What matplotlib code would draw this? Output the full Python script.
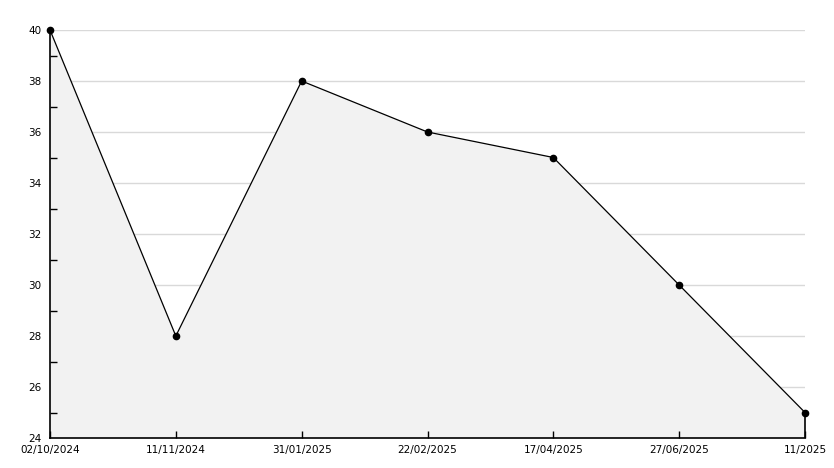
import matplotlib.pyplot as plt
import numpy as np

# datos
fechas = ["02/10/2024", "11/11/2024", "31/01/2025", "22/02/2025", "17/04/2025", "27/06/2025", "11/2025"]
valores = [40, 28, 38, 36, 35, 30, 25]
y_min, y_max = 24, 40

fig = plt.figure(figsize=(8.34, 4.68), dpi=100)
ax = fig.add_axes([50/834, 30/468, 755/834, 408/468])

x = np.arange(len(fechas))
# lineas de rejilla a mano, debajo del relleno
for yv in np.arange(y_min + 2, y_max + 1, 2):
    ax.axhline(yv, color="#d9d9d9", lw=1, zorder=0.5)
# relleno gris bajo la curva (tapa la rejilla)
ax.fill(np.r_[x, x[-1], x[0]], np.r_[valores, y_min, y_min],
        facecolor="#f2f2f2", edgecolor="none", zorder=3)
ax.plot(x, valores, color="black", lw=0.9, marker="o", ms=4.5, zorder=5, clip_on=False)
ax.vlines(x[-1], y_min, valores[-1], color="black", lw=1.2, zorder=5, clip_on=False)

ax.set_xlim(x[0], x[-1])
ax.set_ylim(y_min, y_max)
ax.set_xticks(x)
ax.set_xticklabels(fechas)
ax.set_yticks(np.arange(y_min, y_max + 1, 2))
ax.set_yticks(np.arange(y_min + 1, y_max, 2), minor=True)
ax.grid(False)
ax.xaxis.set_zorder(4)
ax.yaxis.set_zorder(4)

for s in ["top", "right"]:
    ax.spines[s].set_visible(False)
for s in ["left", "bottom"]:
    ax.spines[s].set_linewidth(1.2)
    ax.spines[s].set_zorder(4)

ax.tick_params(axis="x", direction="in", length=5, width=1, labelsize=7.5, pad=5)
ax.tick_params(axis="y", which="minor", direction="in", length=5, width=1)
ax.tick_params(axis="y", which="major", length=0, pad=6, labelsize=7.5)

plt.savefig("out.png", dpi=100)
